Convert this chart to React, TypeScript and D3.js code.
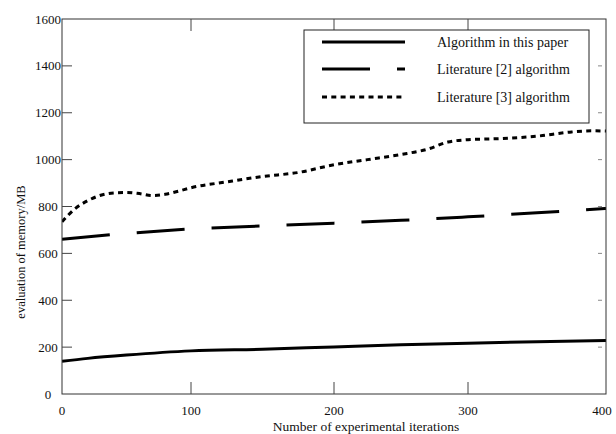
import * as d3 from 'd3'

// x positions of readings (iterations) and the memory values
const xTicks = [0, 100, 200, 300, 400]
const yTicks = [0, 200, 400, 600, 800, 1000, 1200, 1400, 1600]

const oursIter = [0, 20, 50, 100, 150, 200, 250, 300, 350, 400]
const oursMem = [140, 152, 166, 184, 191, 201, 210, 217, 223, 228]

const lit2Iter = [0, 50, 100, 150, 200, 250, 300, 350, 400]
const lit2Mem = [660, 685, 704, 717, 729, 741, 756, 773, 792]

const lit3Iter = [0, 10, 20, 30, 40, 50, 60, 70, 80, 90, 100, 125, 150, 175, 200, 225, 250, 270, 285, 300, 325, 350, 375, 390, 400]
const lit3Mem = [735, 790, 825, 848, 858, 860, 855, 847, 852, 865, 880, 905, 928, 945, 978, 1000, 1022, 1045, 1075, 1085, 1090, 1100, 1118, 1123, 1122]

const legendLabels = ['Algorithm in this paper', 'Literature [2] algorithm', 'Literature [3] algorithm']

const W = 616
const H = 434
const left = 62
const right = 606
const top = 19
const bottom = 394

const txt = { fontFamily: 'Liberation Serif, DejaVu Serif, serif' }

type Pt = { it: number, mem: number }

const zip = (a: number[], b: number[]): Pt[] => a.map((it, i) => ({ it, mem: b[i] }))

const App = () => {
    // the tick spacing of the original axis is not quite even, so map each tick to where it sits
    const x = d3.scaleLinear().domain(xTicks).range([left, 191, 334, 468, right])
    const y = d3.scaleLinear().domain([0, 1600]).range([bottom, top])

    const line = d3.line<Pt>()
        .x(d => x(d.it))
        .y(d => y(d.mem))
        .curve(d3.curveMonotoneX)

    const series = [
        { data: zip(oursIter, oursMem), dash: undefined as string | undefined },
        { data: zip(lit2Iter, lit2Mem), dash: '48 27' },
        { data: zip(lit3Iter, lit3Mem), dash: '5 4.3' },
    ]

    // legend box
    const lg = { x0: 304, x1: 589, y0: 30, y1: 123 }
    const rowY = [42, 69, 97]

    return (
        <svg width={W} height={H} style={{ position: 'absolute', left: 0, top: 0, background: '#fff' }}>
            <rect x={0} y={0} width={W} height={H} fill='#fff' />

            <clipPath id='plot'>
                <rect x={left} y={top} width={right - left} height={bottom - top} />
            </clipPath>

            {/* lines */}
            <g clipPath='url(#plot)'>
                {series.map((s, i) => (
                    <path key={i} d={line(s.data) ?? ''} fill='none' stroke='#000'
                        strokeWidth={3} strokeDasharray={s.dash} />
                ))}
            </g>

            {/* frame */}
            <rect x={left} y={top} width={right - left} height={bottom - top} fill='none' stroke='#333' strokeWidth={1} />

            {/* y ticks */}
            {yTicks.map(t => (
                <g key={'y' + t}>
                    {t > 0 && t < 1600 && <line x1={left} x2={left + 10} y1={y(t)} y2={y(t)} stroke='#444' />}
                    {t > 0 && t < 1600 && <line x1={right - 8} x2={right - 4} y1={y(t)} y2={y(t)} stroke='#888' />}
                    <text x={48} y={y(t)} dy='0.35em' textAnchor='middle' style={txt} fontSize={13} fill='#111'>{t}</text>
                </g>
            ))}

            {/* x ticks */}
            {xTicks.map(t => (
                <g key={'x' + t}>
                    {t > 0 && t < 400 && <line x1={x(t)} x2={x(t)} y1={bottom} y2={bottom - 12} stroke='#444' />}
                    {t > 0 && t < 400 && <line x1={x(t)} x2={x(t)} y1={top} y2={top + 12} stroke='#444' />}
                    <text x={t === 400 ? 602 : x(t)} y={415} textAnchor='middle' style={txt} fontSize={13} fill='#111'>{t}</text>
                </g>
            ))}

            {/* axis titles */}
            <text x={366} y={431} textAnchor='middle' style={txt} fontSize={13.5} fill='#111'>
                Number of experimental iterations
            </text>
            <text transform={`translate(25,252) rotate(-90)`} textAnchor='middle' style={txt} fontSize={12.5} fill='#111'>
                evaluation of memory/MB
            </text>

            {/* legend */}
            <rect x={lg.x0} y={lg.y0} width={lg.x1 - lg.x0} height={lg.y1 - lg.y0} fill='#fff' stroke='#222' strokeWidth={1} />
            {series.map((s, i) => (
                <g key={'lg' + i}>
                    <line x1={322} x2={405} y1={rowY[i]} y2={rowY[i]} stroke='#000' strokeWidth={3} strokeDasharray={s.dash} />
                    <text x={437} y={rowY[i]} dy='0.35em' style={txt} fontSize={14} fill='#111'>{legendLabels[i]}</text>
                </g>
            ))}
        </svg>
    )
}

export default App
